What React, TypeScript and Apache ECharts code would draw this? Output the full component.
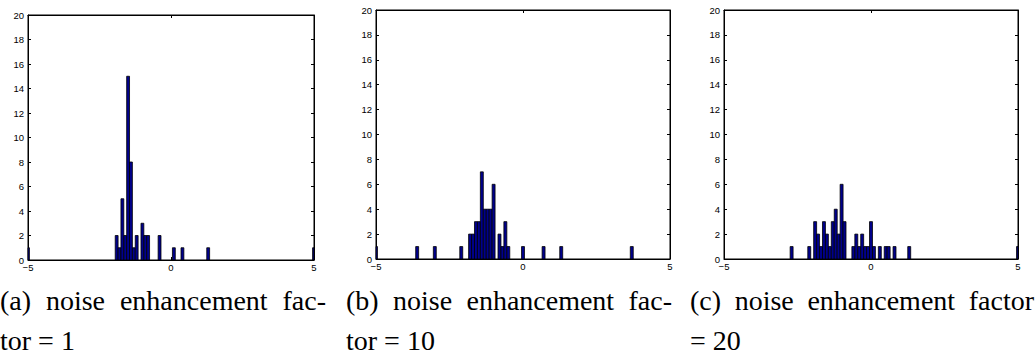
import React, { useEffect, useRef } from "react";
import * as echarts from "echarts";

// ---- data (histogram bin centres and counts, bin width 0.1) ----
const BIN_WIDTH = 0.1;

const centersA = [-5, -1.9, -1.8, -1.7, -1.6, -1.5, -1.4, -1.3, -1.2, -1.0, -0.9, -0.8, -0.4, 0.1, 0.4, 1.3, 5];
const countsA = [1, 2, 1, 5, 2, 15, 8, 1, 2, 3, 2, 2, 2, 1, 1, 1, 1];

const centersB = [-5, -3.6, -3.0, -2.1, -1.8, -1.7, -1.6, -1.5, -1.4, -1.3, -1.2, -1.1, -1.0, -0.8, -0.7, -0.6, -0.5, 0.0, 0.7, 1.3, 3.7];
const countsB = [1, 1, 1, 1, 2, 2, 3, 3, 7, 4, 4, 4, 6, 2, 1, 3, 1, 1, 1, 1, 1];

const centersC = [-2.7, -2.1, -1.9, -1.8, -1.7, -1.6, -1.5, -1.4, -1.3, -1.2, -1.1, -1.0, -0.9, -0.6, -0.5, -0.4, -0.3, -0.2, -0.1, 0.0, 0.1, 0.3, 0.5, 0.6, 0.8, 1.3, 5];
const countsC = [1, 1, 3, 2, 1, 3, 2, 1, 3, 4, 2, 6, 3, 1, 2, 1, 2, 1, 1, 3, 1, 1, 1, 1, 1, 1, 1];

const X_MIN = -5;
const X_MAX = 5;
const X_INTERVAL = 5;
const Y_MIN = 0;
const Y_MAX = 20;
const Y_INTERVAL = 2;

const captionRow1 = [
  ["(a)", "noise", "enhancement", "fac-"],
  ["(b)", "noise", "enhancement", "fac-"],
  ["(c)", "noise", "enhancement", "factor"],
];
const captionRow2 = ["tor = 1", "tor = 10", "= 20"];

// ---- layout ----
const grids = [
  { left: 28, top: 15, width: 286, height: 245 },
  { left: 376, top: 10, width: 294, height: 249 },
  { left: 724, top: 10, width: 294, height: 249 },
];
const captionCols = [
  { left: 0, right: 326 },
  { left: 346, right: 672 },
  { left: 690, right: 1034 },
];
const CAP_FONT = '28px "Liberation Serif"';
const BAR_FILL = "#00008C";

function justifiedWords(words: string[], left: number, right: number, y: number) {
  const ctx = document.createElement("canvas").getContext("2d")!;
  ctx.font = CAP_FONT;
  const widths = words.map((w) => ctx.measureText(w).width);
  const total = widths.reduce((a, b) => a + b, 0);
  const gap = (right - left - total) / (words.length - 1);
  let x = left;
  return words.map((w, i) => {
    const el = {
      type: "text",
      x,
      y,
      style: {
        text: w,
        font: CAP_FONT,
        fill: "#000",
        align: "left",
        verticalAlign: "middle",
      },
    };
    x += widths[i] + gap;
    return el;
  });
}

export default function App() {
  const ref = useRef<HTMLDivElement>(null);
  useEffect(() => {
    if (!ref.current) return;
    const chart = echarts.init(ref.current, undefined, { renderer: "svg" });
    const datasets = [
      centersA.map((c, i) => [c, countsA[i]]),
      centersB.map((c, i) => [c, countsB[i]]),
      centersC.map((c, i) => [c, countsC[i]]),
    ];

    const labelStyle = {
      fontSize: 9.5,
      color: "#000",
      fontFamily: "Liberation Sans",
    };
    const xAxes: any[] = [];
    const yAxes: any[] = [];
    grids.forEach((_, gi) => {
      ["bottom", "top"].forEach((pos) => {
        xAxes.push({
          gridIndex: gi,
          type: "value",
          position: pos,
          min: X_MIN,
          max: X_MAX,
          interval: X_INTERVAL,
          axisLine: { show: true, onZero: false, lineStyle: { color: "#000", width: 1 } },
          axisTick: { show: true, inside: true, length: 3, lineStyle: { color: "#000" } },
          axisLabel: {
            show: pos === "bottom",
            margin: 2,
            ...labelStyle,
            formatter: (v: number) => (v < 0 ? "\u2212" + Math.abs(v) : String(v)),
          },
          splitLine: { show: false },
        });
      });
      ["left", "right"].forEach((pos) => {
        yAxes.push({
          gridIndex: gi,
          type: "value",
          position: pos,
          min: Y_MIN,
          max: Y_MAX,
          interval: Y_INTERVAL,
          axisLine: { show: true, onZero: false, lineStyle: { color: "#000", width: 1 } },
          axisTick: { show: true, inside: true, length: 3, lineStyle: { color: "#000" } },
          axisLabel: { show: pos === "left", margin: 4, ...labelStyle },
          splitLine: { show: false },
        });
      });
    });

    const series = datasets.map((data, gi) => ({
      type: "custom",
      xAxisIndex: gi * 2,
      yAxisIndex: gi * 2,
      data,
      renderItem: (params: any, api: any) => {
        const x = api.value(0);
        const y = api.value(1);
        const p0 = api.coord([x - BIN_WIDTH / 2, 0]);
        const p1 = api.coord([x + BIN_WIDTH / 2, y]);
        const cs = params.coordSys;
        const rect = echarts.graphic.clipRectByRect(
          { x: p0[0], y: p1[1], width: p1[0] - p0[0], height: p0[1] - p1[1] },
          { x: cs.x, y: cs.y, width: cs.width, height: cs.height }
        );
        if (!rect) return null;
        return {
          type: "rect",
          shape: rect,
          style: { fill: BAR_FILL, stroke: "#000", lineWidth: 0.8 },
        };
      },
    }));

    const graphic: any[] = [];
    captionRow1.forEach((words, i) => {
      graphic.push(...justifiedWords(words, captionCols[i].left, captionCols[i].right, 300));
    });
    captionRow2.forEach((t, i) => {
      graphic.push({
        type: "text",
        x: captionCols[i].left,
        y: 340,
        style: {
          text: t,
          font: CAP_FONT,
          fill: "#000",
          align: "left",
          verticalAlign: "middle",
        },
      });
    });

    chart.setOption({
      animation: false,
      backgroundColor: "#fff",
      grid: grids.map((g) => ({
        ...g,
        show: true,
        borderColor: "#000",
        borderWidth: 1,
        backgroundColor: "transparent",
        containLabel: false,
      })),
      xAxis: xAxes,
      yAxis: yAxes,
      series,
      graphic,
    });
    return () => chart.dispose();
  }, []);
  return (
    <div
      ref={ref}
      style={{ position: "absolute", left: 0, top: 0, width: 1035, height: 360 }}
    />
  );
}
